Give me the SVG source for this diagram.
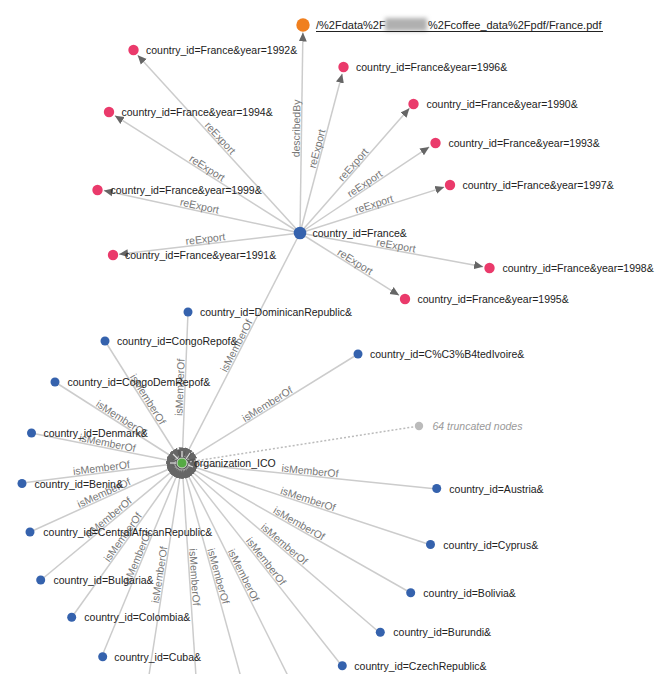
<svg xmlns="http://www.w3.org/2000/svg" width="672" height="674" viewBox="0 0 672 674">
<style>
.e{stroke:#cccccc;stroke-width:1.5;fill:none}
.ea{stroke:#cccccc;stroke-width:1.5;fill:none;marker-end:url(#arr)}
.el{font-family:"Liberation Sans",Arial,sans-serif;font-size:10.5px;fill:#777777;text-anchor:middle}
.nl{font-family:"Liberation Sans",Arial,sans-serif;font-size:10.5px;fill:#222222}
.pink{fill:#ea3a6b}
.blue{fill:#3562ad}
</style>
<defs>
<marker id="arr" viewBox="0 -5 10 10" refX="10" refY="0" markerWidth="9" markerHeight="9" markerUnits="userSpaceOnUse" orient="auto">
<path d="M0,-4.5L10,0L0,4.5Z" fill="#666666"/>
</marker>
<filter id="blur" x="-30%" y="-60%" width="160%" height="220%"><feGaussianBlur stdDeviation="2"/></filter>
</defs>
<rect width="672" height="674" fill="#ffffff"/>
<circle cx="182" cy="463" r="14" fill="#595959"/>
<g id="connectors">
<line class="ea" x1="300" y1="233" x2="137.7" y2="55.2"/>
<line class="ea" x1="300" y1="233" x2="342.2" y2="73.8"/>
<line class="ea" x1="300" y1="233" x2="114.9" y2="115.7"/>
<line class="ea" x1="300" y1="233" x2="409.4" y2="108.3"/>
<line class="ea" x1="300" y1="233" x2="429.2" y2="146.9"/>
<line class="ea" x1="300" y1="233" x2="103.8" y2="190.5"/>
<line class="ea" x1="300" y1="233" x2="444.3" y2="187.1"/>
<line class="ea" x1="300" y1="233" x2="119" y2="254.2"/>
<line class="ea" x1="300" y1="233" x2="483.1" y2="266.7"/>
<line class="ea" x1="300" y1="233" x2="399.1" y2="295.3"/>
<line class="ea" x1="300" y1="233" x2="302.9" y2="32.5"/>
<line class="e" x1="182" y1="463" x2="419" y2="426" stroke-dasharray="2,2" style="stroke:#bbbbbb"/>
<line class="ea" x1="188" y1="312" x2="182.3" y2="456.5"/>
<line class="ea" x1="105" y1="341" x2="178.5" y2="457.5"/>
<line class="ea" x1="55" y1="382" x2="176.5" y2="459.5"/>
<line class="ea" x1="31" y1="433" x2="175.6" y2="461.7"/>
<line class="ea" x1="22" y1="483" x2="175.5" y2="463.8"/>
<line class="ea" x1="30" y1="532" x2="176.1" y2="465.7"/>
<line class="ea" x1="41" y1="580" x2="177" y2="467.2"/>
<line class="ea" x1="72" y1="617" x2="178.2" y2="468.3"/>
<line class="ea" x1="102" y1="656" x2="179.5" y2="469"/>
<line class="ea" x1="147" y1="688" x2="181" y2="469.4"/>
<line class="ea" x1="197" y1="692" x2="182.4" y2="469.5"/>
<line class="ea" x1="245" y1="692" x2="183.7" y2="469.3"/>
<line class="ea" x1="296" y1="692" x2="184.9" y2="468.8"/>
<line class="ea" x1="342" y1="666" x2="186" y2="468.1"/>
<line class="ea" x1="380" y1="633" x2="186.9" y2="467.2"/>
<line class="ea" x1="411" y1="593" x2="187.7" y2="466.2"/>
<line class="ea" x1="431" y1="545" x2="188.2" y2="465"/>
<line class="ea" x1="437" y1="489" x2="188.5" y2="463.7"/>
<line class="ea" x1="358" y1="354" x2="187.5" y2="459.6"/>
<line class="ea" x1="300" y1="233" x2="185" y2="457.2"/>
<g id="edge-labels">
<text class="el" transform="translate(216.5,141.5) rotate(47.6)" y="-1.5">reExport</text>
<text class="el" transform="translate(322,150) rotate(-75.2)" y="-1.5">reExport</text>
<text class="el" transform="translate(204.5,172.5) rotate(32.4)" y="-1.5">reExport</text>
<text class="el" transform="translate(357,168) rotate(-48.8)" y="-1.5">reExport</text>
<text class="el" transform="translate(367.5,188) rotate(-33.7)" y="-1.5">reExport</text>
<text class="el" transform="translate(198.5,211) rotate(12.2)" y="-1.5">reExport</text>
<text class="el" transform="translate(375.5,209) rotate(-17.6)" y="-1.5">reExport</text>
<text class="el" transform="translate(206,244) rotate(-6.7)" y="-1.5">reExport</text>
<text class="el" transform="translate(395,250.5) rotate(10.4)" y="-1.5">reExport</text>
<text class="el" transform="translate(352.5,266) rotate(32.2)" y="-1.5">reExport</text>
<text class="el" transform="translate(301.5,128.5) rotate(-89.2)" y="-1.5">describedBy</text>
<text class="el" transform="translate(185,387.5) rotate(-87.7)" y="-1.5">isMemberOf</text>
<text class="el" transform="translate(143.5,402) rotate(57.7)" y="-1.5">isMemberOf</text>
<text class="el" transform="translate(118.5,422.5) rotate(32.5)" y="-1.5">isMemberOf</text>
<text class="el" transform="translate(106.5,448) rotate(11.2)" y="-1.5">isMemberOf</text>
<text class="el" transform="translate(102,473) rotate(-7.1)" y="-1.5">isMemberOf</text>
<text class="el" transform="translate(106,497.5) rotate(-24.4)" y="-1.5">isMemberOf</text>
<text class="el" transform="translate(111.5,521.5) rotate(-39.7)" y="-1.5">isMemberOf</text>
<text class="el" transform="translate(127,540) rotate(-54.5)" y="-1.5">isMemberOf</text>
<text class="el" transform="translate(142,559.5) rotate(-67.5)" y="-1.5">isMemberOf</text>
<text class="el" transform="translate(164.5,575.5) rotate(-81.2)" y="-1.5">isMemberOf</text>
<text class="el" transform="translate(189.5,577.5) rotate(86.3)" y="-1.5">isMemberOf</text>
<text class="el" transform="translate(213.5,577.5) rotate(74.6)" y="-1.5">isMemberOf</text>
<text class="el" transform="translate(239,577.5) rotate(63.5)" y="-1.5">isMemberOf</text>
<text class="el" transform="translate(262,564.5) rotate(51.8)" y="-1.5">isMemberOf</text>
<text class="el" transform="translate(281,548) rotate(40.6)" y="-1.5">isMemberOf</text>
<text class="el" transform="translate(296.5,528) rotate(29.6)" y="-1.5">isMemberOf</text>
<text class="el" transform="translate(306.5,504) rotate(18.2)" y="-1.5">isMemberOf</text>
<text class="el" transform="translate(309.5,476) rotate(5.8)" y="-1.5">isMemberOf</text>
<text class="el" transform="translate(270,408.5) rotate(-31.8)" y="-1.5">isMemberOf</text>
<text class="el" transform="translate(241,348) rotate(-62.8)" y="-1.5">isMemberOf</text>
</g>
</g>
<g id="node-pdf">
<circle cx="303" cy="25" r="6.7" fill="#f07f1e"/>
<text x="316" y="29" style="font-family:'Liberation Sans',Arial,sans-serif;font-size:11px;fill:#222222">/%2Fdata%2F</text>
<rect x="385" y="18" width="42" height="13" fill="#b0b0b0" filter="url(#blur)"/>
<text x="428" y="29" style="font-family:'Liberation Sans',Arial,sans-serif;font-size:11px;fill:#222222">%2Fcoffee_data%2Fpdf/France.pdf</text>
<line x1="316" y1="31.5" x2="603" y2="31.5" stroke="#222222" stroke-width="1"/>
</g>
<g id="node-1992"><circle class="pink" cx="133.5" cy="50" r="5.2"/><text class="nl" x="146" y="54">country_id=France&amp;year=1992&amp;</text></g>
<g id="node-1996"><circle class="pink" cx="343.5" cy="67" r="5.2"/><text class="nl" x="356" y="71">country_id=France&amp;year=1996&amp;</text></g>
<g id="node-1994"><circle class="pink" cx="109" cy="112" r="5.2"/><text class="nl" x="121.5" y="116">country_id=France&amp;year=1994&amp;</text></g>
<g id="node-1990"><circle class="pink" cx="413.5" cy="104" r="5.2"/><text class="nl" x="426.5" y="108">country_id=France&amp;year=1990&amp;</text></g>
<g id="node-1993"><circle class="pink" cx="435.5" cy="143" r="5.2"/><text class="nl" x="448.5" y="147">country_id=France&amp;year=1993&amp;</text></g>
<g id="node-1999"><circle class="pink" cx="97.5" cy="190" r="5.2"/><text class="nl" x="110.5" y="194">country_id=France&amp;year=1999&amp;</text></g>
<g id="node-1997"><circle class="pink" cx="450" cy="185" r="5.2"/><text class="nl" x="462.5" y="189">country_id=France&amp;year=1997&amp;</text></g>
<g id="node-1991"><circle class="pink" cx="113" cy="255" r="5.2"/><text class="nl" x="125" y="259">country_id=France&amp;year=1991&amp;</text></g>
<g id="node-1998"><circle class="pink" cx="489.5" cy="268" r="5.2"/><text class="nl" x="502.5" y="272">country_id=France&amp;year=1998&amp;</text></g>
<g id="node-1995"><circle class="pink" cx="405" cy="299" r="5.2"/><text class="nl" x="417.5" y="303">country_id=France&amp;year=1995&amp;</text></g>
<g id="node-france"><circle class="blue" cx="300" cy="233" r="6.3"/><text class="nl" x="312.5" y="237">country_id=France&amp;</text></g>
<g id="node-dominican"><circle class="blue" cx="188" cy="312" r="4.5"/><text class="nl" x="200" y="316">country_id=DominicanRepublic&amp;</text></g>
<g id="node-congorep"><circle class="blue" cx="105" cy="341" r="4.5"/><text class="nl" x="117" y="345">country_id=CongoRepof&amp;</text></g>
<g id="node-congodem"><circle class="blue" cx="55" cy="382" r="4.5"/><text class="nl" x="67.5" y="386">country_id=CongoDemRepof&amp;</text></g>
<g id="node-cote"><circle class="blue" cx="358" cy="354" r="4.5"/><text class="nl" x="370" y="358">country_id=C%C3%B4tedIvoire&amp;</text></g>
<g id="node-denmark"><circle class="blue" cx="31.5" cy="433" r="4.5"/><text class="nl" x="43.5" y="437">country_id=Denmark&amp;</text></g>
<g id="node-truncated"><circle cx="419" cy="426" r="4.2" fill="#bbbbbb"/><text x="432.5" y="430" style="font-family:'Liberation Sans',Arial,sans-serif;font-size:10.5px;font-style:italic;fill:#999999">64 truncated nodes</text></g>
<g id="node-benin"><circle class="blue" cx="22" cy="483.5" r="4.5"/><text class="nl" x="34.5" y="487.5">country_id=Benin&amp;</text></g>
<g id="node-austria"><circle class="blue" cx="436.7" cy="488.5" r="4.5"/><text class="nl" x="449.3" y="492.5">country_id=Austria&amp;</text></g>
<g id="node-car"><circle class="blue" cx="30" cy="532" r="4.5"/><text class="nl" x="43.3" y="536">country_id=CentralAfricanRepublic&amp;</text></g>
<g id="node-cyprus"><circle class="blue" cx="430.5" cy="544.5" r="4.5"/><text class="nl" x="443.3" y="548.5">country_id=Cyprus&amp;</text></g>
<g id="node-bulgaria"><circle class="blue" cx="40.7" cy="580" r="4.5"/><text class="nl" x="53.5" y="584">country_id=Bulgaria&amp;</text></g>
<g id="node-bolivia"><circle class="blue" cx="410.7" cy="592.7" r="4.5"/><text class="nl" x="423.3" y="596.7">country_id=Bolivia&amp;</text></g>
<g id="node-colombia"><circle class="blue" cx="71.7" cy="617.3" r="4.5"/><text class="nl" x="84.3" y="621.3">country_id=Colombia&amp;</text></g>
<g id="node-burundi"><circle class="blue" cx="380.3" cy="632.3" r="4.5"/><text class="nl" x="393.3" y="636.3">country_id=Burundi&amp;</text></g>
<g id="node-cuba"><circle class="blue" cx="102.7" cy="656.7" r="4.5"/><text class="nl" x="114.3" y="660.7">country_id=Cuba&amp;</text></g>
<g id="node-czech"><circle class="blue" cx="342.3" cy="665.7" r="4.5"/><text class="nl" x="354.3" y="669.7">country_id=CzechRepublic&amp;</text></g>
<g id="node-ico">
<g stroke="#dddddd" stroke-width="1.2">
<line x1="182" y1="457" x2="182" y2="451"/>
<line x1="178" y1="459" x2="173" y2="454"/>
<line x1="186" y1="459" x2="190" y2="453"/>
<line x1="176" y1="463" x2="170" y2="463"/>
<line x1="188" y1="465" x2="193" y2="467"/>
</g>
<circle cx="182" cy="463" r="5" fill="#55aa44" stroke="#eeeeee" stroke-width="0.8"/>
<text class="nl" x="194" y="467">organization_ICO</text>
</g>
</svg>
